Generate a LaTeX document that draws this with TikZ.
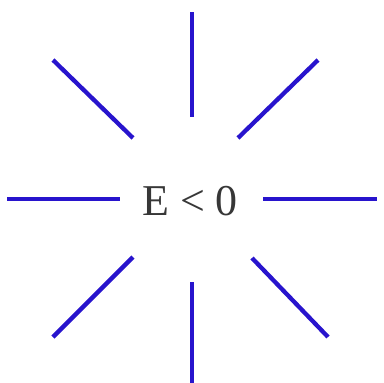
\documentclass[tikz,border=0pt]{standalone}
\usepackage{fontspec}
\setmainfont{Liberation Serif}
\usepackage{tikz}
\usetikzlibrary{positioning}
\definecolor{raycol}{RGB}{40,20,205}
\definecolor{txtcol}{RGB}{55,55,55}

\begin{document}
\begin{tikzpicture}[x=1pt,y=-1pt,ray/.style={raycol,line width=4.3pt}]
  \useasboundingbox (0,0) rectangle (384,383);
  % energy label
  \node[text=txtcol,font=\fontsize{44}{48}\selectfont,inner sep=0pt] (elabel) at (190,201) {E < 0};
  % vertical and horizontal rays
  \draw[ray] (192,12) -- (192,117);
  \draw[ray] (192,282) -- (192,383);
  \draw[ray] (7,199) -- (120,199);
  \draw[ray] (263,199) -- (377,199);
  % diagonal rays
  \draw[ray] (53,60) -- (133,138);
  \draw[ray] (318,60) -- (238,138);
  \draw[ray] (53,337) -- (133,257);
  \draw[ray] (252,258) -- (328,337);
\end{tikzpicture}
\end{document}
